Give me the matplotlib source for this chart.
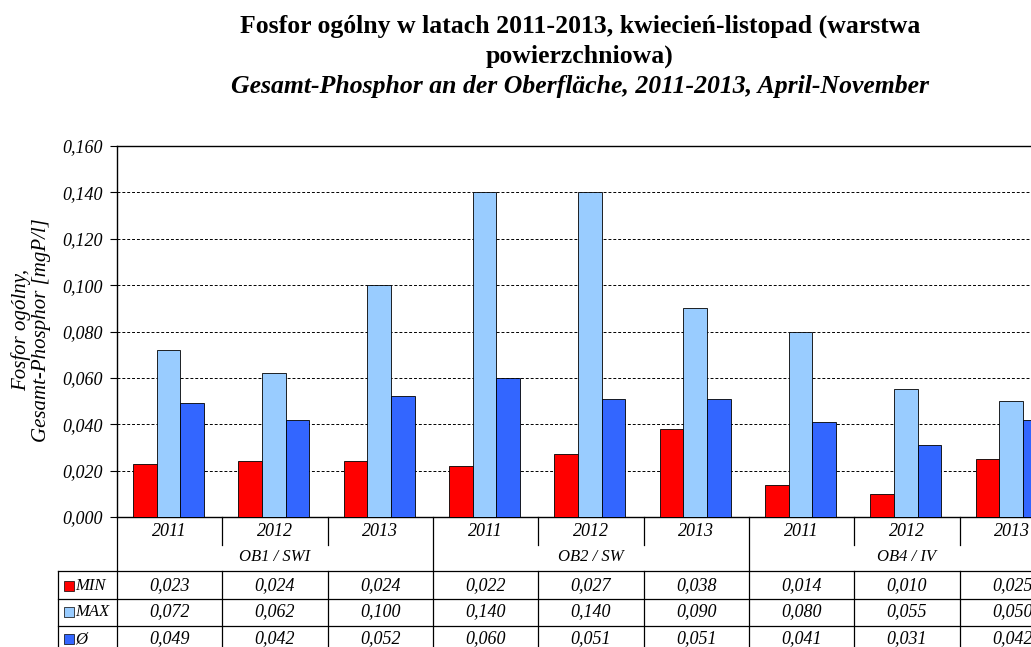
import matplotlib
matplotlib.use("Agg")
import matplotlib.pyplot as plt
import matplotlib.transforms as mtransforms
from matplotlib.patches import Rectangle
import numpy as np

# data
years = ['2011', '2012', '2013', '2011', '2012', '2013', '2011', '2012', '2013']
groups = ['OB1 / SWI', 'OB2 / SW', 'OB4 / IV']
min_vals = [0.023, 0.024, 0.024, 0.022, 0.027, 0.038, 0.014, 0.010, 0.025]
max_vals = [0.072, 0.062, 0.100, 0.140, 0.140, 0.090, 0.080, 0.055, 0.050]
avg_vals = [0.049, 0.042, 0.052, 0.060, 0.051, 0.051, 0.041, 0.031, 0.042]
series_names = ['MIN', 'MAX', 'Ø']
colors = ['#FF0000', '#99CCFF', '#3366FF']

W, H = 1031, 647
plt.rcParams['font.family'] = ['Liberation Serif', 'DejaVu Serif']

fig = plt.figure(figsize=(W / 100, H / 100), dpi=100)
# plot area runs past the right edge, as in the cropped reference
ax = fig.add_axes([117 / W, 1 - 517 / H, 948 / W, 371 / H])

x = np.arange(len(years))
bw = 0.225
series = [min_vals, max_vals, avg_vals]
for i, (vals, c) in enumerate(zip(series, colors)):
    ax.bar(x + (i - 1) * bw - 0.01, vals, width=bw, color=c, edgecolor='black',
           linewidth=0.6, zorder=3)

ax.set_xlim(-0.5, len(years) - 0.5)
ax.set_ylim(0, 0.16)
yt = np.arange(0, 0.161, 0.02)
ax.set_yticks(yt)
ax.set_yticklabels([f"{v:.3f}".replace('.', ',') for v in yt],
                   fontsize=13, style='italic')
ax.tick_params(axis='y', length=5, width=0.8, direction='out', pad=5)
ax.set_xticks([])
for v in yt[1:-1]:
    ax.axhline(v, color='black', linestyle=(0, (3, 2)), linewidth=0.7, zorder=1)
for s in ['left', 'top', 'bottom', 'right']:
    ax.spines[s].set_linewidth(1.0)

fig.text(31 / W, 1 - 330 / H, 'Fosfor ogólny,\nGesamt-Phosphor [mgP/l]',
         rotation=90, ha='center', va='center', fontsize=15, style='italic',
         multialignment='center', linespacing=1.1)

# titles
fig.text(580 / W, 1 - 26 / H,
         'Fosfor ogólny w latach 2011-2013, kwiecień-listopad (warstwa',
         ha='center', va='center', fontsize=18.5, fontweight='bold')
fig.text(580 / W, 1 - 56 / H, 'powierzchniowa)',
         ha='center', va='center', fontsize=18.5, fontweight='bold')
fig.text(580 / W, 1 - 87 / H,
         'Gesamt-Phosphor an der Oberfläche, 2011-2013, April-November',
         ha='center', va='center', fontsize=18.5, fontweight='bold', style='italic')

# data table below the axis
tr = mtransforms.blended_transform_factory(ax.transData, fig.transFigure)
def fy(py):
    return 1 - py / H

lw = 0.9
kw = dict(color='black', linewidth=lw, transform=tr, clip_on=False)
n = len(years)
for i in range(n + 1):
    xb = i - 0.5
    if i % 3 == 0:
        ax.plot([xb, xb], [fy(517), fy(H)], **kw)
    else:
        ax.plot([xb, xb], [fy(517), fy(545)], **kw)
        ax.plot([xb, xb], [fy(571), fy(H)], **kw)

for i, yr in enumerate(years):
    ax.text(i, fy(531), yr, transform=tr, ha='center', va='center',
            fontsize=13, style='italic')
for g, name in enumerate(groups):
    ax.text(g * 3 + 1, fy(557), name, transform=tr, ha='center', va='center',
            fontsize=12, style='italic')

row_lines = [571, 599, 626]
row_text = [586, 612, 639]
for yl in row_lines:
    fig.add_artist(plt.Line2D([58 / W, 1.1], [fy(yl), fy(yl)], color='black',
                              linewidth=lw))
fig.add_artist(plt.Line2D([58 / W, 58 / W], [fy(571), 0], color='black',
                          linewidth=lw))

for r, (vals, c, nm) in enumerate(zip(series, colors, series_names)):
    yc = row_text[r]
    fig.add_artist(Rectangle((64 / W, fy(yc + 5)), 10 / W, 10 / H,
                             facecolor=c, edgecolor='black', linewidth=0.5,
                             transform=fig.transFigure))
    fig.text(75 / W, fy(yc), nm, ha='left', va='center', fontsize=12,
             style='italic')
    for i, v in enumerate(vals):
        ax.text(i, fy(yc), f"{v:.3f}".replace('.', ','), transform=tr,
                ha='center', va='center', fontsize=13, style='italic')

fig.savefig('out.png', dpi=100)
